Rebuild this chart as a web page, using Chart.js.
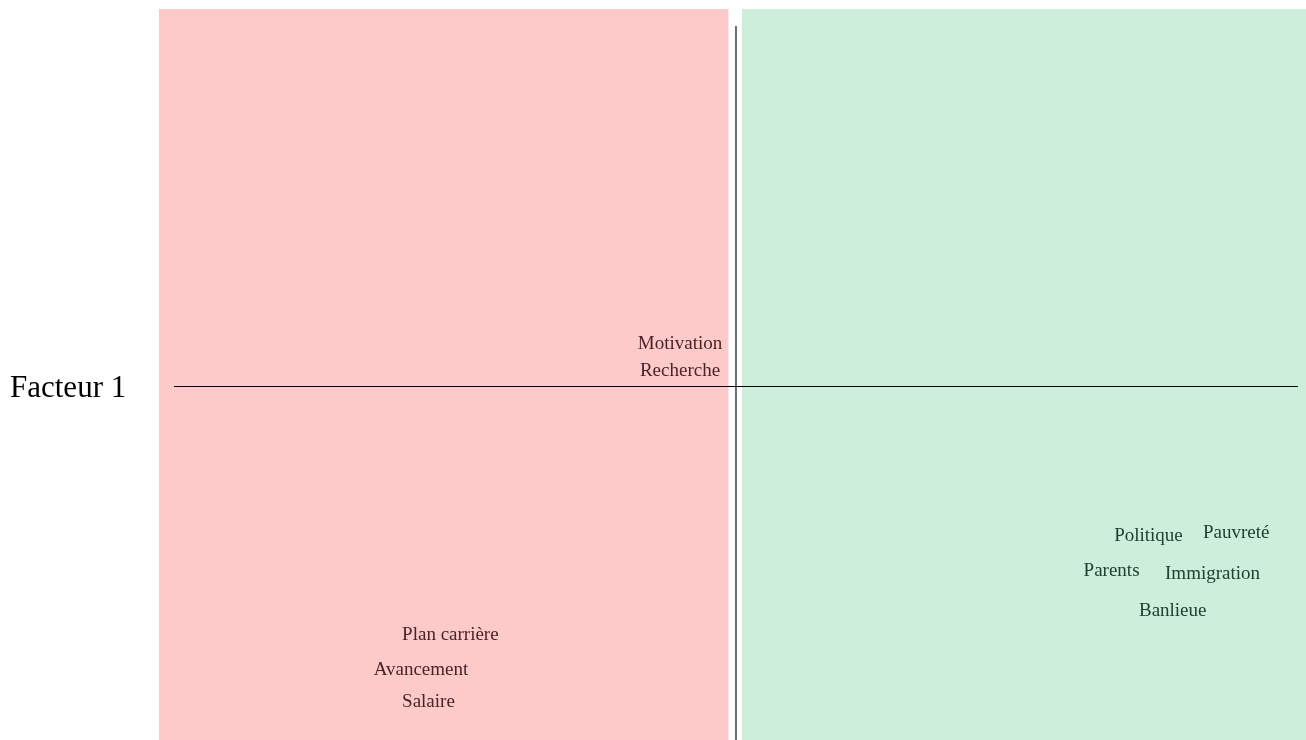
<!DOCTYPE html>
<html>
<head>
<meta charset="utf-8">
<script src="https://cdn.jsdelivr.net/npm/chart.js@4.4.0/dist/chart.umd.min.js"></script>
<style>
html,body{margin:0;padding:0;background:#fff;}
#wrap{position:relative;width:1306px;height:740px;}
</style>
</head>
<body>
<div id="wrap"><canvas id="c" width="1306" height="740"></canvas></div>
<script>
// Factor-map labels and coordinates (factor units)
const leftLabels = ["Motivation", "Recherche", "Plan carrière", "Avancement", "Salaire"];
const leftX = [-0.097, -0.097, -0.495, -0.546, -0.533];
const leftY = [0.112, 0.040, -0.660, -0.753, -0.838];

const rightLabels = ["Politique", "Pauvreté", "Parents", "Immigration", "Banlieue"];
const rightX = [0.715, 0.867, 0.651, 0.826, 0.757];
const rightY = [-0.398, -0.390, -0.490, -0.498, -0.597];

const axisTitle = "Facteur 1";

// Axis ranges
const xRange = [-1, 0.988];
const yRange = [-0.939, 1];

const toPts = (xs, ys, labels) => xs.map((x, i) => ({x: x, y: ys[i], label: labels[i]}));

const quadrantPlugin = {
  id: 'quadrants',
  beforeDatasetsDraw(chart) {
    const {ctx, chartArea: a, scales: {x, y}} = chart;
    ctx.save();
    // left (pink) region
    const pl = x.getPixelForValue(-1), pr = x.getPixelForValue(-0.013);
    ctx.fillStyle = '#fdcaca';
    ctx.fillRect(pl, a.top, pr - pl, a.bottom - a.top);
    // right (green) region
    const gl = x.getPixelForValue(0.0105), gr = x.getPixelForValue(xRange[1]);
    ctx.fillStyle = '#cceedb';
    ctx.fillRect(gl, a.top, gr - gl, a.bottom - a.top);
    // vertical axis
    const x0 = x.getPixelForValue(0);
    ctx.strokeStyle = '#6e6e6e';
    ctx.lineWidth = 2;
    ctx.beginPath();
    ctx.moveTo(x0, y.getPixelForValue(0.955));
    ctx.lineTo(x0, y.getPixelForValue(yRange[0]));
    ctx.stroke();
    // horizontal axis
    const y0 = Math.round(y.getPixelForValue(0)) + 0.5;
    ctx.strokeStyle = '#000';
    ctx.lineWidth = 1;
    ctx.beginPath();
    ctx.moveTo(x.getPixelForValue(-0.974), y0);
    ctx.lineTo(x.getPixelForValue(0.974), y0);
    ctx.stroke();
    // axis title
    ctx.fillStyle = '#000';
    ctx.font = '31px "Liberation Serif", "Times New Roman", serif';
    ctx.textAlign = 'left';
    ctx.textBaseline = 'middle';
    ctx.fillText(axisTitle, 10, y.getPixelForValue(0) + 2.5);
    ctx.restore();
  },
  afterDatasetsDraw(chart) {
    const {ctx} = chart;
    ctx.save();
    ctx.font = '19px "Liberation Serif", "Times New Roman", serif';
    ctx.textAlign = 'center';
    ctx.textBaseline = 'middle';
    chart.data.datasets.forEach((ds, di) => {
      const meta = chart.getDatasetMeta(di);
      ctx.fillStyle = ds.labelColor;
      meta.data.forEach((el, i) => {
        ctx.fillText(ds.data[i].label, el.x, el.y);
      });
    });
    ctx.restore();
  }
};

new Chart(document.getElementById('c'), {
  type: 'scatter',
  data: {
    datasets: [
      {data: toPts(leftX, leftY, leftLabels), pointRadius: 0, labelColor: '#4d2226'},
      {data: toPts(rightX, rightY, rightLabels), pointRadius: 0, labelColor: '#1f402f'}
    ]
  },
  options: {
    responsive: false,
    animation: false,
    layout: {padding: {left: 159, top: 9, right: 0, bottom: 0}},
    plugins: {legend: {display: false}, tooltip: {enabled: false}},
    scales: {
      x: {type: 'linear', min: xRange[0], max: xRange[1], display: false},
      y: {type: 'linear', min: yRange[0], max: yRange[1], display: false}
    }
  },
  plugins: [quadrantPlugin]
});
</script>
</body>
</html>
